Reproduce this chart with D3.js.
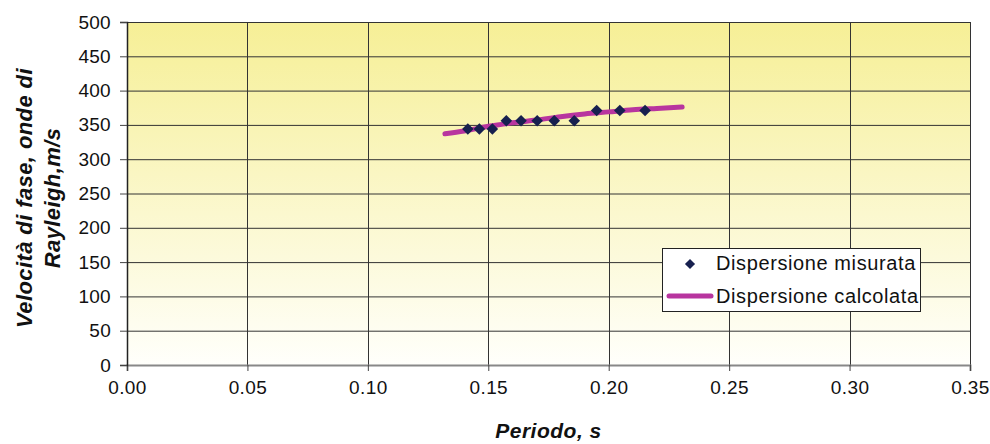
<!DOCTYPE html>
<html><head><meta charset="utf-8">
<script src="https://cdn.jsdelivr.net/npm/d3@7"></script>
<style>body{margin:0;background:#fff}svg{display:block}text{font-family:"Liberation Sans",Arial,sans-serif}</style>
</head><body><svg id="c" width="990" height="444"></svg>
<script>
const measuredPeriod = [0.1415, 0.1463, 0.1517, 0.1575, 0.1636, 0.1703, 0.1774, 0.1857, 0.1950, 0.2046, 0.2151];
const measuredVel = [344, 344, 344, 356, 356, 356, 356, 356, 371, 371, 371];
const calcPeriod = [0.132, 0.14, 0.15, 0.16, 0.17, 0.18, 0.19, 0.20, 0.21, 0.22, 0.2305];
const calcVel = [337, 341, 348, 353, 357, 362, 366, 369, 372, 374, 376];
const xTicks = [0, 0.05, 0.10, 0.15, 0.20, 0.25, 0.30, 0.35];
const yTicks = [0, 50, 100, 150, 200, 250, 300, 350, 400, 450, 500];
const legendLabels = ["Dispersione misurata", "Dispersione calcolata"];

const svg = d3.select("#c");
const L = 127, R = 970, T = 22, B = 365;
const x = d3.scaleLinear().domain([0, 0.35]).range([L, R]);
const y = d3.scaleLinear().domain([0, 500]).range([B, T]);

const defs = svg.append("defs");
const g = defs.append("linearGradient").attr("id", "bg").attr("x1", 0).attr("y1", 0).attr("x2", 0).attr("y2", 1);
g.append("stop").attr("offset", "0%").attr("stop-color", "#f6ef96");
g.append("stop").attr("offset", "100%").attr("stop-color", "#fffffb");
svg.append("rect").attr("x", L).attr("y", T).attr("width", R - L).attr("height", B - T).attr("fill", "url(#bg)");

// grid
svg.append("g").selectAll("line").data(yTicks.filter(d => d > 0)).join("line")
  .attr("x1", L).attr("x2", R).attr("y1", d => y(d) + 0.5).attr("y2", d => y(d) + 0.5)
  .attr("stroke", "#333").attr("stroke-width", 1);
svg.append("g").selectAll("line").data(xTicks.filter(d => d > 0)).join("line")
  .attr("y1", T).attr("y2", B).attr("x1", d => Math.round(x(d)) + 0.5).attr("x2", d => Math.round(x(d)) + 0.5)
  .attr("stroke", "#333").attr("stroke-width", 1);

// axes
const xAxis = svg.append("g").attr("transform", `translate(0,${B})`)
  .call(d3.axisBottom(x).tickValues(xTicks).tickFormat(d3.format(".2f")).tickSize(6).tickPadding(10));
xAxis.select(".domain").attr("stroke", "#888").attr("stroke-width", 2);
xAxis.selectAll(".tick line").attr("stroke", "#444");
xAxis.selectAll("text").attr("font-size", 19).attr("letter-spacing", 0.4).attr("fill", "#111");

const yAxis = svg.append("g").attr("transform", `translate(${L},0)`)
  .call(d3.axisLeft(y).tickValues(yTicks).tickSize(7).tickPadding(9));
yAxis.select(".domain").attr("stroke", "#222").attr("stroke-width", 1.5);
yAxis.selectAll(".tick line").attr("stroke", "#444");
yAxis.selectAll("text").attr("font-size", 19).attr("letter-spacing", 0.3).attr("fill", "#111");

// line
const lineData = calcPeriod.map((p, i) => [p, calcVel[i]]);
svg.append("path").datum(lineData)
  .attr("d", d3.line().x(d => x(d[0])).y(d => y(d[1])).curve(d3.curveMonotoneX))
  .attr("fill", "none").attr("stroke", "#b8359f").attr("stroke-width", 5).attr("stroke-linecap", "round");

// markers
const diamond = d3.symbol().type(d3.symbolDiamond2).size(85);
svg.append("g").selectAll("path").data(measuredPeriod.map((p, i) => [p, measuredVel[i]])).join("path")
  .attr("d", diamond).attr("transform", d => `translate(${x(d[0])},${y(d[1])})`).attr("fill", "#17204f");

// legend
const lg = svg.append("g");
lg.append("rect").attr("x", 662.5).attr("y", 248.5).attr("width", 258).attr("height", 63)
  .attr("fill", "#fff").attr("stroke", "#222").attr("stroke-width", 1);
lg.append("path").attr("d", d3.symbol().type(d3.symbolDiamond2).size(65)).attr("transform", "translate(690,264)").attr("fill", "#17204f");
lg.append("line").attr("x1", 669).attr("x2", 711).attr("y1", 296).attr("y2", 296)
  .attr("stroke", "#b8359f").attr("stroke-width", 5).attr("stroke-linecap", "round");
lg.selectAll("text").data(legendLabels).join("text")
  .attr("x", 716).attr("y", (d, i) => 270 + i * 33).attr("font-size", 20).attr("letter-spacing", 0.6)
  .attr("fill", "#111").text(d => d);

// titles
svg.append("text").attr("x", (L + R) / 2).attr("y", 438).attr("text-anchor", "middle")
  .attr("font-size", 21).attr("letter-spacing", 0.5).attr("font-weight", "bold").attr("font-style", "italic").attr("fill", "#111").text("Periodo, s");
const yt = svg.append("text").attr("transform", "translate(0,198) rotate(-90)").attr("text-anchor", "middle")
  .attr("font-size", 22).attr("letter-spacing", 0.4).attr("font-weight", "bold").attr("font-style", "italic").attr("fill", "#111");
yt.append("tspan").attr("x", 0).attr("y", 32).text("Velocità di fase, onde di");
yt.append("tspan").attr("x", 0).attr("y", 60).text("Rayleigh,m/s");
</script></body></html>
